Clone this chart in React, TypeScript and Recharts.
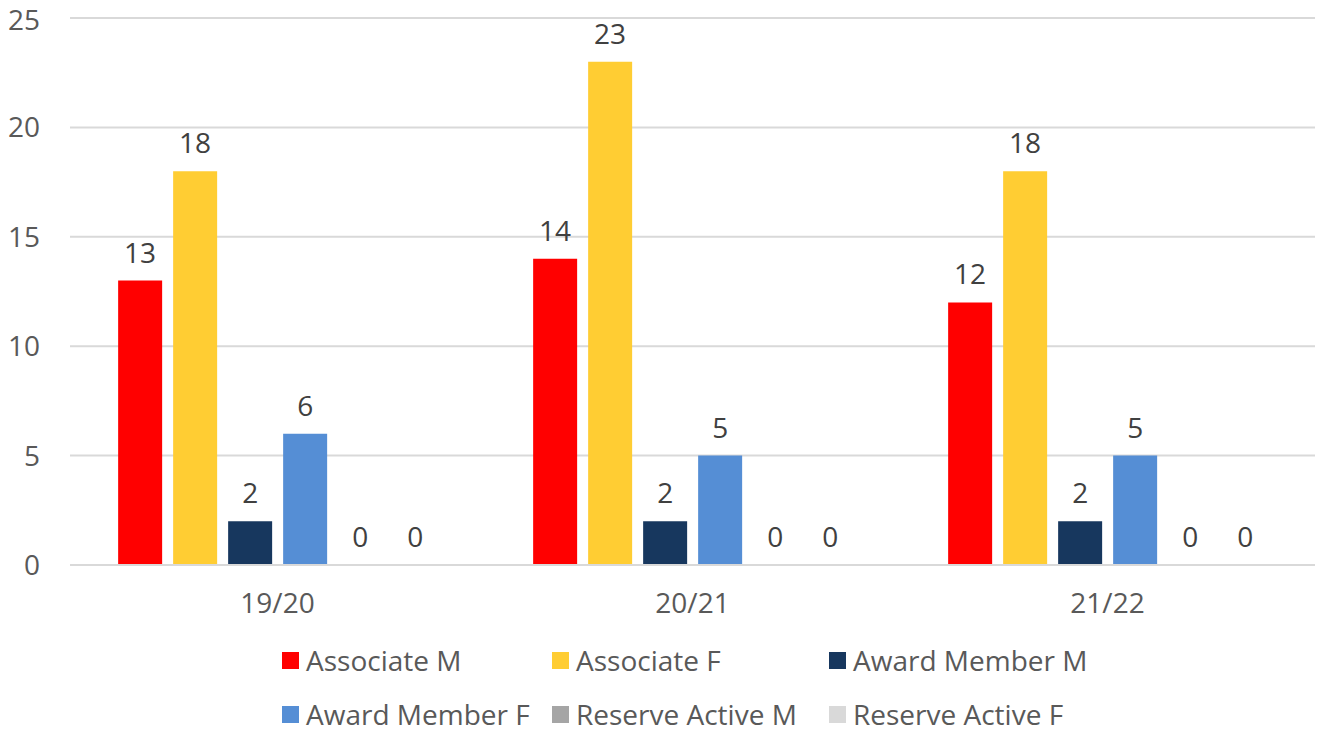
import React from 'react';
import { BarChart, Bar, XAxis, YAxis, CartesianGrid, Legend, LabelList } from 'recharts';

const categories = ['19/20', '20/21', '21/22'];
const associateM = [13, 14, 12];
const associateF = [18, 23, 18];
const awardMemberM = [2, 2, 2];
const awardMemberF = [6, 5, 5];
const reserveActiveM = [0, 0, 0];
const reserveActiveF = [0, 0, 0];
const yTicks = [0, 5, 10, 15, 20, 25];

const seriesNames = ['Associate M', 'Associate F', 'Award Member M', 'Award Member F', 'Reserve Active M', 'Reserve Active F'];
const seriesKeys = ['am', 'af', 'awm', 'awf', 'ram', 'raf'];
const seriesColors = ['#FF0000', '#FFCD33', '#17375E', '#558ED5', '#A5A5A5', '#D9D9D9'];
const seriesValues = [associateM, associateF, awardMemberM, awardMemberF, reserveActiveM, reserveActiveF];

const data = categories.map((c, i) => {
  const row: any = { name: c };
  seriesKeys.forEach((k, j) => { row[k] = seriesValues[j][i]; });
  return row;
});

const FONT = '"Open Sans", Lato, sans-serif';
const FS = 28;

const legendColLeft = [282, 552, 829];

const CustomLegend = () => (
  <div style={{ position: 'relative', width: 1323, height: 100, fontFamily: FONT, fontSize: FS, color: '#595959' }}>
    {seriesNames.map((n, i) => {
      const row = Math.floor(i / 3);
      const col = i % 3;
      return (
        <div key={n} style={{ position: 'absolute', left: legendColLeft[col], top: row * 54, height: 30, display: 'flex', alignItems: 'center', whiteSpace: 'nowrap' }}>
          <span style={{ display: 'inline-block', width: 17, height: 17, background: seriesColors[i], marginRight: 7 }} />
          <span>{n}</span>
        </div>
      );
    })}
  </div>
);

const YTick = (props: any) => {
  const { x, y, payload } = props;
  const shift = y < 22 ? 2 : 0;
  return (
    <text x={x} y={y + shift} dy="0.355em" textAnchor="end" fill="#595959" fontSize={FS} fontFamily={FONT}>
      {payload.value}
    </text>
  );
};

export default function App() {
  return (
    <div style={{ position: 'absolute', left: 0, top: 0, width: 1323, height: 733, background: '#fff' }}>
      <BarChart
        width={1323}
        height={733}
        data={data}
        margin={{ top: 18, right: 8, left: 0, bottom: 8 }}
        barCategoryGap="11.6%"
        barGap={11}
      >
        <CartesianGrid vertical={false} stroke="#D9D9D9" strokeWidth={2} />
        <XAxis
          dataKey="name"
          axisLine={{ stroke: '#D9D9D9', strokeWidth: 2 }}
          tickLine={false}
          tickSize={0}
          tickMargin={28}
          height={60}
          tick={{ fill: '#595959', fontSize: FS, fontFamily: FONT }}
        />
        <YAxis
          domain={[0, 25]}
          ticks={yTicks}
          axisLine={false}
          tickLine={false}
          tickSize={0}
          tickMargin={30}
          width={70}
          tick={<YTick />}
        />
        <Legend
          content={<CustomLegend />}
          height={100}
          wrapperStyle={{ position: 'absolute', left: 0, top: 645, width: 1323, height: 100 }}
        />
        {seriesKeys.map((k, i) => (
          <Bar key={k} dataKey={k} name={seriesNames[i]} fill={seriesColors[i]} minPointSize={0.01} isAnimationActive={false}>
            <LabelList dataKey={k} position="top" offset={18} fill="#404040" fontSize={FS} fontFamily={FONT} />
          </Bar>
        ))}
      </BarChart>
    </div>
  );
}
